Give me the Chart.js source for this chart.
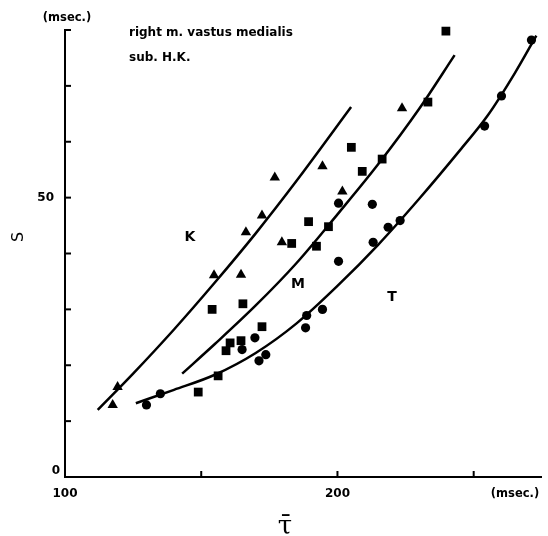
<!DOCTYPE html>
<html>
<head>
<meta charset="utf-8">
<script src="https://cdn.jsdelivr.net/npm/chart.js@4/dist/chart.umd.min.js"></script>
<style>
  html, body { margin: 0; padding: 0; background: #fff; }
  canvas { display: block; }
</style>
</head>
<body>
<canvas id="myChart" width="548" height="536"></canvas>
<script>
// right m. vastus medialis, sub. H.K.
// K = triangles, M = squares, T = circles  (tau in msec, S in msec)

const kTau = [117.5, 119.3, 154.7, 164.6, 166.4, 172.3, 177.0, 179.6, 194.5, 201.8, 223.7];
const kS   = [12.9, 16.1, 36.1, 36.2, 43.8, 46.8, 53.6, 42.0, 55.6, 51.1, 66.0];

const mTau = [148.9, 156.2, 159.1, 160.6, 164.6, 172.3, 154.0, 165.3, 183.2, 192.3, 189.4, 196.7, 209.1, 205.1, 216.4, 233.2, 239.8];
const mS   = [15.2, 18.1, 22.6, 24.0, 24.4, 26.9, 30.0, 31.0, 41.8, 41.3, 45.7, 44.8, 54.7, 59.0, 56.9, 67.1, 79.8];

const tTau = [129.9, 135.0, 165.0, 169.7, 171.2, 173.7, 188.3, 188.7, 194.5, 200.4, 200.4, 212.8, 213.1, 218.6, 223.0, 254.0, 260.2, 271.2];
const tS   = [12.9, 14.9, 22.8, 24.9, 20.8, 21.9, 26.7, 28.9, 30.0, 38.6, 49.0, 48.8, 42.0, 44.7, 45.9, 62.8, 68.2, 78.2];

// fitted curves
const kCurveTau = [112, 125, 140, 155, 170, 185, 205];
const kCurveS   = [12.0, 18.5, 26.4, 34.8, 43.6, 53.0, 66.2];
const mCurveTau = [143, 155, 170, 185, 200, 215, 230, 243];
const mCurveS   = [18.5, 23.8, 30.7, 38.3, 47.0, 56.0, 65.9, 75.5];
const tCurveTau = [126, 140, 155, 170, 185, 200, 215, 230, 245, 255, 265, 273];
const tCurveS   = [13.2, 15.6, 18.3, 22.2, 27.5, 34.2, 41.6, 49.8, 58.5, 64.6, 72.2, 79.0];

// axis ticks
const xTickMarks = [150, 200, 250];
const yTickMarks = [10, 20, 30, 40, 50, 60, 70, 80];
const xTickLabels = [100, 200];
const yTickLabels = [0, 50];

function toPoints(xs, ys) {
    return xs.map((x, i) => ({ x: x, y: ys[i] }));
}

function curve(xs, ys) {
    return {
        type: 'line',
        data: toPoints(xs, ys),
        borderColor: '#000',
        borderWidth: 2.5,
        pointRadius: 0,
        cubicInterpolationMode: 'monotone',
        fill: false,
        clip: false
    };
}

function marks(xs, ys, style, r) {
    return {
        type: 'scatter',
        data: toPoints(xs, ys),
        pointStyle: style,
        pointRadius: r,
        backgroundColor: '#000',
        borderColor: '#000',
        borderWidth: 0,
        clip: false
    };
}

const bold = '"DejaVu Sans", Verdana, sans-serif';

// ticks point inward and the labels sit where the figure has them
const decorations = {
    id: 'decorations',
    afterDraw(chart) {
        const ctx = chart.ctx;
        const xs = chart.scales.x;
        const ys = chart.scales.y;
        const x0 = xs.getPixelForValue(100);
        const y0 = ys.getPixelForValue(0);

        ctx.save();
        ctx.strokeStyle = '#000';
        ctx.lineWidth = 2;
        yTickMarks.forEach(v => {
            const py = ys.getPixelForValue(v);
            ctx.beginPath();
            ctx.moveTo(x0, py);
            ctx.lineTo(x0 + 6, py);
            ctx.stroke();
        });
        xTickMarks.forEach(v => {
            const px = xs.getPixelForValue(v);
            ctx.beginPath();
            ctx.moveTo(px, y0);
            ctx.lineTo(px, y0 - 6);
            ctx.stroke();
        });

        ctx.fillStyle = '#000';
        ctx.font = 'bold 12px ' + bold;
        ctx.textBaseline = 'middle';
        ctx.textAlign = 'center';
        xTickLabels.forEach(v => {
            ctx.fillText(String(v), xs.getPixelForValue(v), y0 + 17);
        });
        ctx.textAlign = 'right';
        ctx.fillText('0', x0 - 5, y0 - 6);
        ctx.fillText('50', x0 - 11, ys.getPixelForValue(50));

        ctx.font = 'bold 11.5px ' + bold;
        ctx.textAlign = 'center';
        ctx.fillText('(msec.)', x0 + 2, 18);
        ctx.fillText('(msec.)', 515, y0 + 17);

        ctx.font = 'bold 12px ' + bold;
        ctx.textAlign = 'left';
        ctx.fillText('right m. vastus medialis', 129, 33);
        ctx.fillText('sub. H.K.', 129, 58);

        ctx.font = 'bold 14px ' + bold;
        ctx.textAlign = 'center';
        ctx.fillText('K', 190, 237);
        ctx.fillText('M', 298, 284);
        ctx.fillText('T', 392, 297);

        // axis titles
        ctx.font = '26px "DejaVu Serif", serif';
        ctx.fillText('\u03C4\u0304', 285, 527);

        ctx.translate(19, 237);
        ctx.rotate(-Math.PI / 2);
        ctx.font = '16px "DejaVu Sans", sans-serif';
        ctx.fillText('S', 0, 0);
        ctx.restore();
    }
};

new Chart(document.getElementById('myChart').getContext('2d'), {
    type: 'scatter',
    data: {
        datasets: [
            curve(kCurveTau, kCurveS),
            curve(mCurveTau, mCurveS),
            curve(tCurveTau, tCurveS),
            marks(kTau, kS, 'triangle', 6),
            marks(mTau, mS, 'rect', 6.2),
            marks(tTau, tS, 'circle', 4.6)
        ]
    },
    options: {
        responsive: false,
        animation: false,
        devicePixelRatio: 1,
        layout: { padding: { left: 57, right: 5, top: 30, bottom: 51 } },
        plugins: {
            legend: { display: false },
            tooltip: { enabled: false }
        },
        scales: {
            x: {
                type: 'linear',
                min: 100,
                max: 275,
                ticks: { display: false },
                grid: { display: false },
                border: { display: true, color: '#000', width: 2 }
            },
            y: {
                type: 'linear',
                min: 0,
                max: 80,
                ticks: { display: false },
                grid: { display: false },
                border: { display: true, color: '#000', width: 2 }
            }
        }
    },
    plugins: [decorations]
});
</script>
</body>
</html>
